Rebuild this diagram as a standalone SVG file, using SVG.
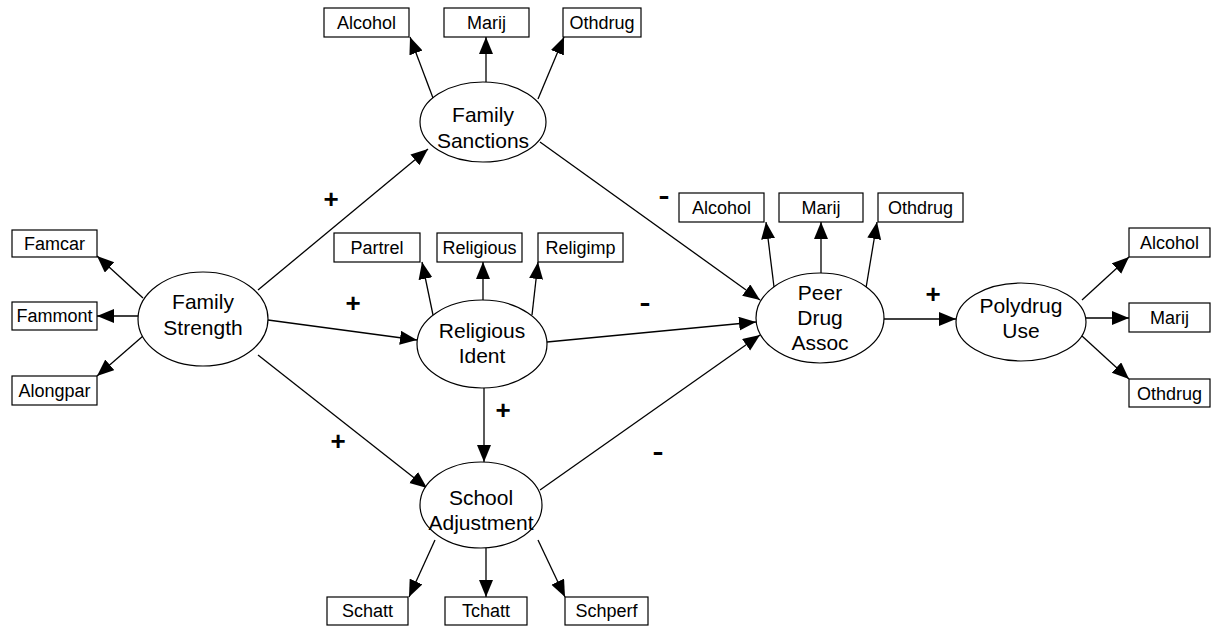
<svg xmlns="http://www.w3.org/2000/svg" width="1216" height="634" viewBox="0 0 1216 634">
<style>
.ell{fill:#fff;stroke:#000;stroke-width:1.2}
.box{fill:#fff;stroke:#000;stroke-width:1.2}
.lt{font-family:"Liberation Sans",Arial,sans-serif;font-size:21px;text-anchor:middle;fill:#000}
.bt{font-family:"Liberation Sans",Arial,sans-serif;font-size:18px;text-anchor:middle;fill:#000}
.sg{font-family:"Liberation Sans",Arial,sans-serif;font-size:26px;font-weight:bold;text-anchor:middle;fill:#000}
.cn line{stroke:#000;stroke-width:1.3;marker-end:url(#ah)}
</style>
<defs>
<marker id="ah" markerUnits="userSpaceOnUse" markerWidth="18" markerHeight="15" refX="17" refY="7" orient="auto">
<path d="M0,0 L17,7 L0,14 z" fill="#000"/>
</marker>
</defs>
<rect width="1216" height="634" fill="#fff"/>
<g id="connectors" class="cn">
<line x1="143" y1="298" x2="97" y2="256"/>
<line x1="138" y1="316" x2="97" y2="316"/>
<line x1="143" y1="336" x2="97" y2="376"/>
<line x1="258" y1="290" x2="428" y2="149"/>
<line x1="268" y1="320" x2="417" y2="340"/>
<line x1="258" y1="355" x2="427" y2="488"/>
<line x1="433" y1="98" x2="410" y2="37"/>
<line x1="486" y1="82" x2="486" y2="37"/>
<line x1="538" y1="99" x2="564" y2="37"/>
<line x1="540" y1="142" x2="760" y2="300"/>
<line x1="433" y1="315" x2="422" y2="262"/>
<line x1="483" y1="300" x2="483" y2="262"/>
<line x1="532" y1="315" x2="538" y2="262"/>
<line x1="484" y1="388" x2="484" y2="462"/>
<line x1="547" y1="342" x2="756" y2="322"/>
<line x1="435" y1="540" x2="409" y2="597"/>
<line x1="486" y1="548" x2="486" y2="597"/>
<line x1="538" y1="540" x2="565" y2="597"/>
<line x1="540" y1="490" x2="760" y2="335"/>
<line x1="774" y1="287" x2="766" y2="222"/>
<line x1="821" y1="273" x2="821" y2="222"/>
<line x1="866" y1="288" x2="877" y2="222"/>
<line x1="884" y1="319" x2="956" y2="319"/>
<line x1="1082" y1="300" x2="1129" y2="257"/>
<line x1="1086" y1="318" x2="1129" y2="318"/>
<line x1="1082" y1="336" x2="1129" y2="379"/>
</g>
<g id="signs">
<text class="sg" x="331" y="208">+</text>
<text class="sg" x="353" y="312">+</text>
<text class="sg" x="338" y="450">+</text>
<text class="sg" x="503" y="419">+</text>
<text class="sg" x="933" y="303">+</text>
<text class="sg" x="664" y="204" textLength="11" lengthAdjust="spacingAndGlyphs">-</text>
<text class="sg" x="645" y="311" textLength="11" lengthAdjust="spacingAndGlyphs">-</text>
<text class="sg" x="658" y="460" textLength="11" lengthAdjust="spacingAndGlyphs">-</text>
</g>
<g id="family-strength">
<ellipse class="ell" cx="203" cy="319" rx="65" ry="47"/>
<text class="lt" x="203" y="309">Family</text>
<text class="lt" x="203" y="335">Strength</text>
</g>
<g id="family-sanctions">
<ellipse class="ell" cx="483" cy="122" rx="63" ry="40"/>
<text class="lt" x="483" y="122">Family</text>
<text class="lt" x="483" y="148">Sanctions</text>
</g>
<g id="religious-ident">
<ellipse class="ell" cx="482" cy="344" rx="65" ry="44"/>
<text class="lt" x="482" y="338">Religious</text>
<text class="lt" x="482" y="363">Ident</text>
</g>
<g id="school-adjustment">
<ellipse class="ell" cx="481" cy="505" rx="61" ry="43"/>
<text class="lt" x="481" y="505">School</text>
<text class="lt" x="481" y="530">Adjustment</text>
</g>
<g id="peer-drug-assoc">
<ellipse class="ell" cx="820" cy="318" rx="64" ry="45"/>
<text class="lt" x="820" y="300">Peer</text>
<text class="lt" x="820" y="325">Drug</text>
<text class="lt" x="820" y="350">Assoc</text>
</g>
<g id="polydrug-use">
<ellipse class="ell" cx="1021" cy="322" rx="65" ry="39"/>
<text class="lt" x="1021" y="313">Polydrug</text>
<text class="lt" x="1021" y="338">Use</text>
</g>
<g id="fs-famcar"><rect class="box" x="12" y="230" width="85" height="27"/><text class="bt" x="54.5" y="250">Famcar</text></g>
<g id="fs-fammont"><rect class="box" x="12" y="302" width="85" height="28"/><text class="bt" x="54.5" y="322">Fammont</text></g>
<g id="fs-alongpar"><rect class="box" x="12" y="376" width="85" height="29"/><text class="bt" x="54.5" y="397">Alongpar</text></g>
<g id="sanc-alcohol"><rect class="box" x="324" y="8" width="85" height="29"/><text class="bt" x="366.5" y="29">Alcohol</text></g>
<g id="sanc-marij"><rect class="box" x="444" y="8" width="85" height="29"/><text class="bt" x="486.5" y="29">Marij</text></g>
<g id="sanc-othdrug"><rect class="box" x="563" y="8" width="78" height="29"/><text class="bt" x="602" y="29">Othdrug</text></g>
<g id="rel-partrel"><rect class="box" x="334" y="233" width="86" height="29"/><text class="bt" x="377" y="254">Partrel</text></g>
<g id="rel-religious"><rect class="box" x="437" y="233" width="85" height="29"/><text class="bt" x="479.5" y="254">Religious</text></g>
<g id="rel-religimp"><rect class="box" x="538" y="233" width="85" height="29"/><text class="bt" x="580.5" y="254">Religimp</text></g>
<g id="sch-schatt"><rect class="box" x="327" y="597" width="81" height="28"/><text class="bt" x="367.5" y="617">Schatt</text></g>
<g id="sch-tchatt"><rect class="box" x="445" y="597" width="82" height="28"/><text class="bt" x="486" y="617">Tchatt</text></g>
<g id="sch-schperf"><rect class="box" x="565" y="597" width="83" height="28"/><text class="bt" x="606.5" y="617">Schperf</text></g>
<g id="peer-alcohol"><rect class="box" x="679" y="193" width="85" height="29"/><text class="bt" x="721.5" y="214">Alcohol</text></g>
<g id="peer-marij"><rect class="box" x="779" y="193" width="84" height="29"/><text class="bt" x="821" y="214">Marij</text></g>
<g id="peer-othdrug"><rect class="box" x="878" y="193" width="85" height="29"/><text class="bt" x="920.5" y="214">Othdrug</text></g>
<g id="poly-alcohol"><rect class="box" x="1129" y="228" width="81" height="29"/><text class="bt" x="1169.5" y="249">Alcohol</text></g>
<g id="poly-marij"><rect class="box" x="1129" y="303" width="81" height="29"/><text class="bt" x="1169.5" y="324">Marij</text></g>
<g id="poly-othdrug"><rect class="box" x="1129" y="379" width="81" height="28"/><text class="bt" x="1169.5" y="400">Othdrug</text></g>
</svg>
